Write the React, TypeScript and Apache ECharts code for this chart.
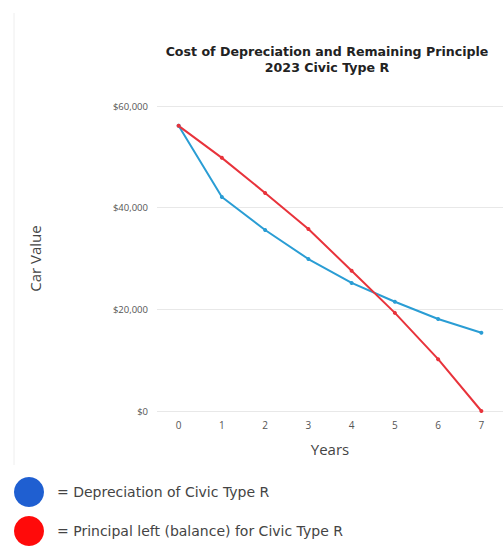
import React, { useEffect, useRef } from "react";
import * as echarts from "echarts";

const years = ["0", "1", "2", "3", "4", "5", "6", "7"];
const depreciation = [56100, 42100, 35600, 29900, 25200, 21500, 18100, 15400];
const principalLeft = [56100, 49800, 42900, 35800, 27600, 19300, 10200, 0];
const yTicks = [0, 20000, 40000, 60000];

const titleLines = ["Cost of Depreciation and Remaining Principle", "2023 Civic Type R"];
const legendItems = [
  { label: "= Depreciation of Civic Type R", color: "#1f5fd1" },
  { label: "= Principal left (balance) for Civic Type R", color: "#ff0a0a" },
];

export default function App() {
  const ref = useRef<HTMLDivElement>(null);
  useEffect(() => {
    document.body.style.margin = "0";
    const chart = echarts.init(ref.current!, null, { renderer: "svg" });
    const font = "'Open Sans', 'Liberation Sans', sans-serif";
    chart.setOption({
      animation: false,
      backgroundColor: "#ffffff",
      title: {
        text: titleLines.join("\n"),
        left: 322,
        top: 38,
        textAlign: "center",
        textStyle: {
          fontFamily: "'DejaVu Sans', sans-serif",
          fontWeight: "bold",
          fontSize: 12.6,
          color: "#222222",
          lineHeight: 16,
        },
      },
      grid: { left: 157, right: 1, top: 106, bottom: 137 },
      xAxis: {
        type: "category",
        data: years,
        boundaryGap: true,
        name: "Years",
        nameLocation: "middle",
        nameGap: 30,
        nameTextStyle: { fontFamily: font, fontSize: 15, color: "#444444" },
        axisLine: { show: false },
        axisTick: { show: false },
        axisLabel: { fontFamily: font, fontSize: 10, color: "#555555", margin: 9 },
      },
      yAxis: {
        type: "value",
        min: 0,
        max: 60000,
        interval: 20000,
        name: "Car Value",
        nameLocation: "middle",
        nameGap: 115,
        nameTextStyle: { fontFamily: font, fontSize: 15, color: "#444444" },
        axisLine: { show: false },
        axisTick: { show: false },
        splitLine: { lineStyle: { color: "#e8e8e8", width: 1 } },
        axisLabel: {
          fontFamily: font,
          fontSize: 9.5,
          color: "#555555",
          margin: 9,
          formatter: (v: number) =>
            yTicks.includes(v) ? "$" + v.toLocaleString("en-US") : "",
        },
      },
      series: [
        {
          name: "Depreciation",
          type: "line",
          data: depreciation,
          symbol: "circle",
          symbolSize: 4,
          lineStyle: { color: "#2a9dd4", width: 2 },
          itemStyle: { color: "#2a9dd4" },
        },
        {
          name: "Principal left",
          type: "line",
          data: principalLeft,
          symbol: "circle",
          symbolSize: 4,
          lineStyle: { color: "#e8333b", width: 2 },
          itemStyle: { color: "#e8333b" },
        },
      ],
      graphic: [
        {
          type: "line",
          shape: { x1: 14, y1: 13, x2: 14, y2: 465 },
          style: { stroke: "#eeeeee", lineWidth: 1 },
        },
        ...legendItems.flatMap((item, i) => [
          {
            type: "circle",
            shape: { cx: 29, cy: 492 + i * 39, r: 15 },
            style: { fill: item.color },
          },
          {
            type: "text",
            x: 57,
            y: 492 + i * 39,
            style: {
              text: item.label,
              fontFamily: "'DejaVu Sans', sans-serif",
              fontSize: 14,
              fill: "#444444",
              verticalAlign: "middle",
            },
          },
        ]),
      ],
    });
    return () => chart.dispose();
  }, []);
  return <div ref={ref} style={{ width: 504, height: 548 }} />;
}
